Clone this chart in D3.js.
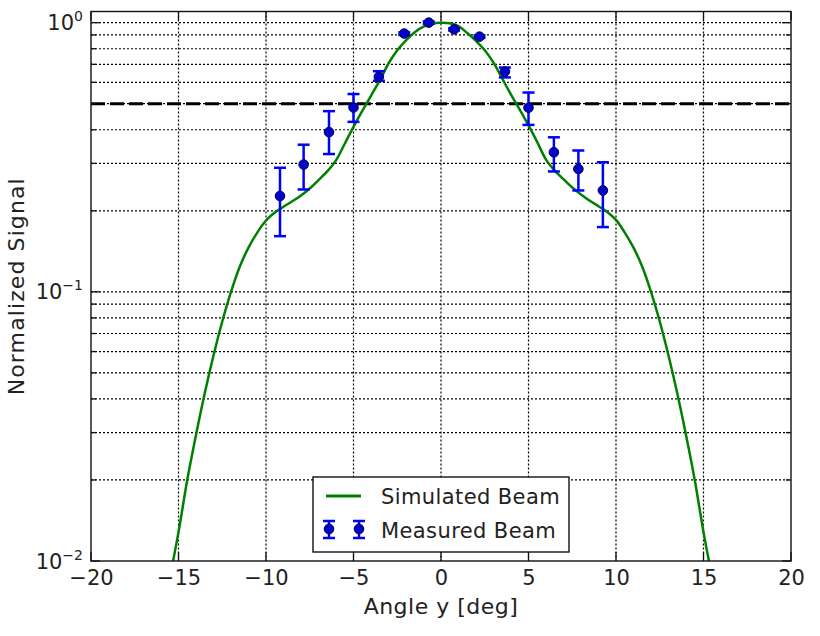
<!DOCTYPE html>
<html>
<head>
<meta charset="utf-8">
<script src="https://cdn.jsdelivr.net/npm/d3@7"></script>
<style>
body { margin: 0; background: #fff; }
text { font-family: "DejaVu Sans", sans-serif; fill: #222; }
</style>
</head>
<body>
<div class="chart"></div>
<script>
// measured beam (with error bars)
var angleMeasured = [-9.2, -7.85, -6.4, -5.0, -3.55, -2.1, -0.7, 0.75, 2.2, 3.65, 5.0, 6.45, 7.85, 9.25];
var signalMeasured = [0.227, 0.297, 0.392, 0.484, 0.629, 0.911, 1.0, 0.944, 0.887, 0.658, 0.483, 0.330, 0.286, 0.238];
var errLower = [0.161, 0.240, 0.325, 0.428, 0.608, 0.90, 0.99, 0.935, 0.878, 0.626, 0.417, 0.280, 0.238, 0.174];
var errUpper = [0.289, 0.352, 0.469, 0.543, 0.660, 0.92, 1.01, 0.953, 0.896, 0.681, 0.550, 0.375, 0.335, 0.303];

// simulated beam
var angleSim = [-15.6, -15, -14.5, -14, -13.5, -13, -12.5, -12, -11.5, -11, -10.5, -10, -9.5, -9, -8.5, -8,
  -7.5, -7, -6.5, -6, -5.5, -5, -4.5, -4, -3.5, -3, -2.5, -2, -1.5, -1, -0.5, 0,
  0.5, 1, 1.5, 2, 2.5, 3, 3.5, 4, 4.5, 5, 5.5, 6, 6.5, 7, 7.5, 8,
  8.5, 9, 9.5, 10, 10.5, 11, 11.5, 12, 12.5, 13, 13.5, 14, 14.5, 15, 15.6];
var signalSim = [0.0080, 0.0128, 0.0200, 0.0294, 0.042, 0.058, 0.0776, 0.100, 0.124, 0.146, 0.166, 0.184, 0.197, 0.207, 0.217, 0.228,
  0.242, 0.260, 0.280, 0.308, 0.355, 0.410, 0.470, 0.535, 0.610, 0.705, 0.790, 0.860, 0.922, 0.966, 0.992, 1.0,
  0.995, 0.970, 0.915, 0.855, 0.79, 0.71, 0.62, 0.54, 0.475, 0.415, 0.36, 0.31, 0.282, 0.262, 0.244, 0.230,
  0.218, 0.208, 0.198, 0.185, 0.166, 0.146, 0.124, 0.100, 0.0776, 0.058, 0.042, 0.0294, 0.0200, 0.0128, 0.0080];

var halfPower = 0.5;
var xTicks = [-20, -15, -10, -5, 0, 5, 10, 15, 20];
var yExponents = [-2, -1, 0];
var legendLabels = ["Simulated Beam", "Measured Beam"];

var svgWidth = 820, svgHeight = 636;
var margin = {top: 11.5, left: 91, right: 29, bottom: 75};
var width = svgWidth - margin.left - margin.right;
var height = svgHeight - margin.top - margin.bottom;

var svg = d3.select(".chart").append("svg")
  .attr("width", svgWidth)
  .attr("height", svgHeight);

var chartGroup = svg.append("g")
  .attr("transform", `translate(${margin.left}, ${margin.top})`);

var xScale = d3.scaleLinear().domain([-20, 20]).range([0, width]);
var yScale = d3.scaleLog().domain([0.01, 1.1]).range([height, 0]);

svg.append("defs").append("clipPath").attr("id", "clip")
  .append("rect").attr("width", width).attr("height", height);

// minor + major log ticks
var yAllTicks = [];
yExponents.forEach(function(e) {
  for (var k = 1; k <= 9; k++) {
    var v = k * Math.pow(10, e);
    if (v <= 1.1) yAllTicks.push({v: v, major: k === 1});
  }
});

// grid
var grid = chartGroup.append("g");
grid.selectAll(".hgrid").data(yAllTicks.filter(d => d.v > 0.01)).enter().append("line")
  .attr("x1", 0).attr("x2", width)
  .attr("y1", d => yScale(d.v)).attr("y2", d => yScale(d.v))
  .attr("stroke", "#000").attr("stroke-width", 1.2)
  .attr("stroke-dasharray", "2,2");
grid.selectAll(".vgrid").data(xTicks.slice(1, -1)).enter().append("line")
  .attr("x1", d => xScale(d)).attr("x2", d => xScale(d))
  .attr("y1", 0).attr("y2", height)
  .attr("stroke", "#000").attr("stroke-width", 1.2)
  .attr("stroke-dasharray", "2,2");

// half power line
chartGroup.append("line")
  .attr("x1", 0).attr("x2", width)
  .attr("y1", yScale(halfPower)).attr("y2", yScale(halfPower))
  .attr("stroke", "#000").attr("stroke-width", 3)
  .attr("stroke-dasharray", "14,5");

// simulated curve
var simData = angleSim.map((a, i) => ({x: a, y: signalSim[i]}));
var line = d3.line()
  .x(d => xScale(d.x))
  .y(d => yScale(d.y))
  .curve(d3.curveCatmullRom);
chartGroup.append("path")
  .datum(simData)
  .attr("clip-path", "url(#clip)")
  .attr("d", line)
  .attr("fill", "none")
  .attr("stroke", "#008000")
  .attr("stroke-width", 2.5);

// measured points with error bars
function drawErrorbar(g, cx, cy, yTop, yBot) {
  g.append("line").attr("x1", cx).attr("x2", cx).attr("y1", yTop).attr("y2", yBot)
    .attr("stroke", "#0000ff").attr("stroke-width", 2.5);
  [yTop, yBot].forEach(function(yy) {
    g.append("line").attr("x1", cx - 6).attr("x2", cx + 6).attr("y1", yy).attr("y2", yy)
      .attr("stroke", "#0000ff").attr("stroke-width", 2.5);
  });
  g.append("circle").attr("cx", cx).attr("cy", cy).attr("r", 4.8)
    .attr("fill", "#0000d0").attr("stroke", "#000040").attr("stroke-width", 1);
}
var measGroup = chartGroup.append("g");
angleMeasured.forEach(function(a, i) {
  drawErrorbar(measGroup, xScale(a), yScale(signalMeasured[i]), yScale(errUpper[i]), yScale(errLower[i]));
});

// frame
chartGroup.append("rect")
  .attr("width", width).attr("height", height)
  .attr("fill", "none").attr("stroke", "#111").attr("stroke-width", 1.4);

// inward ticks
var ticks = chartGroup.append("g").attr("stroke", "#111").attr("stroke-width", 1.3);
xTicks.forEach(function(t) {
  var x = xScale(t);
  ticks.append("line").attr("x1", x).attr("x2", x).attr("y1", height).attr("y2", height - 9);
  ticks.append("line").attr("x1", x).attr("x2", x).attr("y1", 0).attr("y2", 9);
});
yAllTicks.forEach(function(d) {
  var y = yScale(d.v), len = d.major ? 9 : 5;
  ticks.append("line").attr("x1", 0).attr("x2", len).attr("y1", y).attr("y2", y);
  ticks.append("line").attr("x1", width).attr("x2", width - len).attr("y1", y).attr("y2", y);
});

// x tick labels
var bottomAxis = d3.axisBottom(xScale).tickValues(xTicks).tickSize(0).tickPadding(9);
var xAxis = chartGroup.append("g")
  .attr("transform", `translate(0, ${height})`)
  .call(bottomAxis);
xAxis.select(".domain").remove();
xAxis.selectAll("text")
  .style("font-family", "DejaVu Sans, sans-serif")
  .style("font-size", "21px")
  .attr("fill", "#222");

// y tick labels 10^e
yExponents.forEach(function(e) {
  var t = chartGroup.append("text")
    .attr("x", -8)
    .attr("y", yScale(Math.pow(10, e)) + 7.5)
    .attr("text-anchor", "end")
    .style("font-size", "21px");
  t.append("tspan").text("10");
  t.append("tspan").attr("dy", -9).style("font-size", "14px")
    .text(e === 0 ? "0" : "\u2212" + Math.abs(e));
});

// axis labels
chartGroup.append("text")
  .attr("x", width / 2)
  .attr("y", height + 53)
  .attr("text-anchor", "middle")
  .style("font-size", "22px")
  .style("letter-spacing", "0.5px")
  .text("Angle y [deg]");

chartGroup.append("text")
  .attr("transform", "rotate(-90)")
  .attr("x", -height / 2)
  .attr("y", -67)
  .attr("text-anchor", "middle")
  .style("font-size", "22px")
  .style("letter-spacing", "1.1px")
  .text("Normalized Signal");

// legend
var legend = svg.append("g").attr("transform", "translate(313, 477)");
legend.append("rect")
  .attr("width", 256).attr("height", 75)
  .attr("fill", "#fff").attr("stroke", "#111").attr("stroke-width", 1.4);
legend.append("line")
  .attr("x1", 13).attr("x2", 48).attr("y1", 19).attr("y2", 19)
  .attr("stroke", "#008000").attr("stroke-width", 3);
drawErrorbar(legend, 16, 52, 44, 61);
drawErrorbar(legend, 46, 52, 44, 61);
legend.selectAll(".legtext").data(legendLabels).enter().append("text")
  .attr("x", 68)
  .attr("y", (d, i) => 27 + i * 34)
  .style("font-size", "21px")
  .style("letter-spacing", "0.4px")
  .text(d => d);
</script>
</body>
</html>
